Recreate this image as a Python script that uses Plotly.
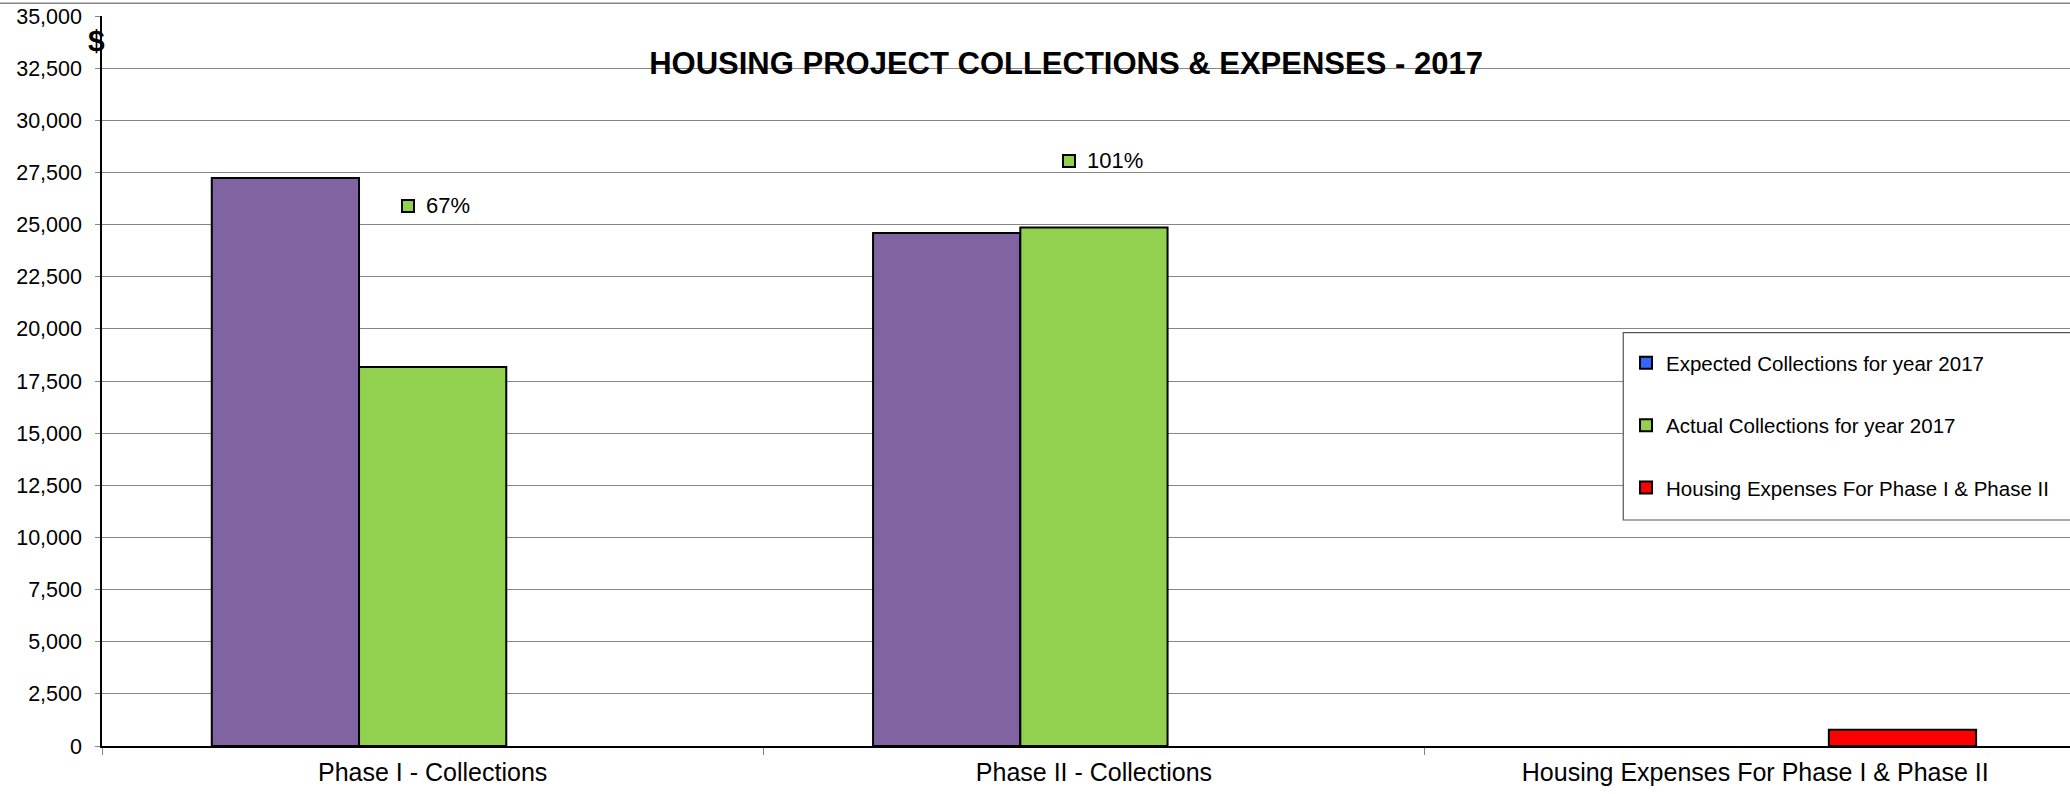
import plotly.graph_objects as go

# ---- data ----
categories = ["Phase I - Collections", "Phase II - Collections",
              "Housing Expenses For Phase I & Phase II"]
expected = [27230, 24600, None]
actual = [18170, 24860, None]
expenses = [None, None, 780]
label_y = [25900, 28050]          # height at which the % labels sit
series_names = ["Expected Collections for year 2017",
                "Actual Collections for year 2017",
                "Housing Expenses For Phase I & Phase II"]
y_tick_step = 2500
y_max = 35000

PURPLE = "#8064A2"
GREEN = "#92D050"
RED = "#FF0000"
LEG_BLUE = "#3366FF"
GRID = "#868686"
FONT = "Arial, Liberation Sans, sans-serif"

fig = go.Figure()
line = dict(color="black", width=2)

fig.add_trace(go.Bar(x=categories, y=expected, name=series_names[0],
                     marker=dict(color=PURPLE, line=line),
                     offsetgroup="exp", legendgroup="exp", showlegend=False))
fig.add_trace(go.Bar(x=categories, y=actual, name=series_names[1],
                     marker=dict(color=GREEN, line=line),
                     offsetgroup="act", legendgroup="act", legendrank=2))
fig.add_trace(go.Bar(x=categories, y=expenses, name=series_names[2],
                     marker=dict(color=RED, line=line),
                     offsetgroup="hex", legendgroup="hex", legendrank=3))
# legend swatch of the expected series is blue in the original
fig.add_trace(go.Bar(x=categories, y=[None] * len(categories), name=series_names[0],
                     marker=dict(color=LEG_BLUE, line=line),
                     offsetgroup="exp", legendgroup="exp", legendrank=1))

annotations = []
for i in range(2):
    pct = round(actual[i] / expected[i] * 100)
    annotations.append(dict(x=categories[i], y=label_y[i], xref="x", yref="y",
                            text=" ", showarrow=False, width=10, height=10,
                            bgcolor=GREEN, bordercolor="black", borderwidth=2,
                            borderpad=0, xanchor="center", yanchor="middle",
                            xshift=-25, font=dict(size=4)))
    annotations.append(dict(x=categories[i], y=label_y[i], xref="x", yref="y",
                            text=f"{pct}%", showarrow=False, xanchor="left",
                            yanchor="middle", xshift=-9,
                            font=dict(size=22, color="black", family=FONT)))
annotations.append(dict(x=-0.003, y=0.966, xref="paper", yref="paper",
                        text="<b>$</b>", showarrow=False, xanchor="center",
                        yanchor="middle", font=dict(size=30, color="black", family=FONT)))

fig.update_layout(
    width=2070, height=794,
    margin=dict(l=102, r=0, t=16, b=48),
    paper_bgcolor="white", plot_bgcolor="white",
    barmode="group", bargap=0.332, bargroupgap=0,
    font=dict(family=FONT, color="black"),
    title=dict(text="<b>HOUSING PROJECT COLLECTIONS & EXPENSES - 2017</b>",
               xref="container", yref="container", x=0.515, y=0.9203,
               xanchor="center", yanchor="middle",
               font=dict(size=31, color="black", family=FONT)),
    xaxis=dict(type="category", range=[-0.5, 2.476], tickson="boundaries",
               ticks="outside", ticklen=7, tickcolor=GRID, tickwidth=1,
               showline=True, linecolor="black", linewidth=1.5,
               showgrid=False, tickfont=dict(size=25, color="black"),
               ticklabelstandoff=3, automargin=False),
    yaxis=dict(range=[0, y_max], dtick=y_tick_step, tick0=0, tickformat=",d",
               showgrid=True, gridcolor=GRID, gridwidth=1.3,
               showline=True, linecolor="black", linewidth=1.5,
               ticks="outside", ticklen=5, tickcolor=GRID,
               zeroline=False, tickfont=dict(size=21.5, color="black"),
               ticklabelstandoff=9, ticklabeloverflow="allow", automargin=False),
    legend=dict(x=0.7744, y=0.552, xanchor="left", yanchor="top",
                bgcolor="rgba(0,0,0,0)", borderwidth=0,
                font=dict(size=20.5, color="black", family=FONT),
                tracegroupgap=32.7, traceorder="grouped"),
    annotations=annotations,
    shapes=[
        dict(type="line", xref="paper", yref="paper", x0=-0.06, x1=1.0,
             y0=1.0174, y1=1.0174, line=dict(color=GRID, width=1.5)),
        # legend frame (box is cut by the right edge in the original)
        dict(type="rect", xref="paper", yref="paper", x0=0.7730, x1=1.05,
             y0=0.3096, y1=0.5662, fillcolor="white", layer="above",
             line=dict(color="#555555", width=1.2)),
    ],
)

# place the chart at the page's top-left corner (no default body margin)
fig.write_html("out.html",
               config={"displayModeBar": False},
               post_script="document.body.style.margin='0';"
                           "document.body.style.overflow='hidden';")
